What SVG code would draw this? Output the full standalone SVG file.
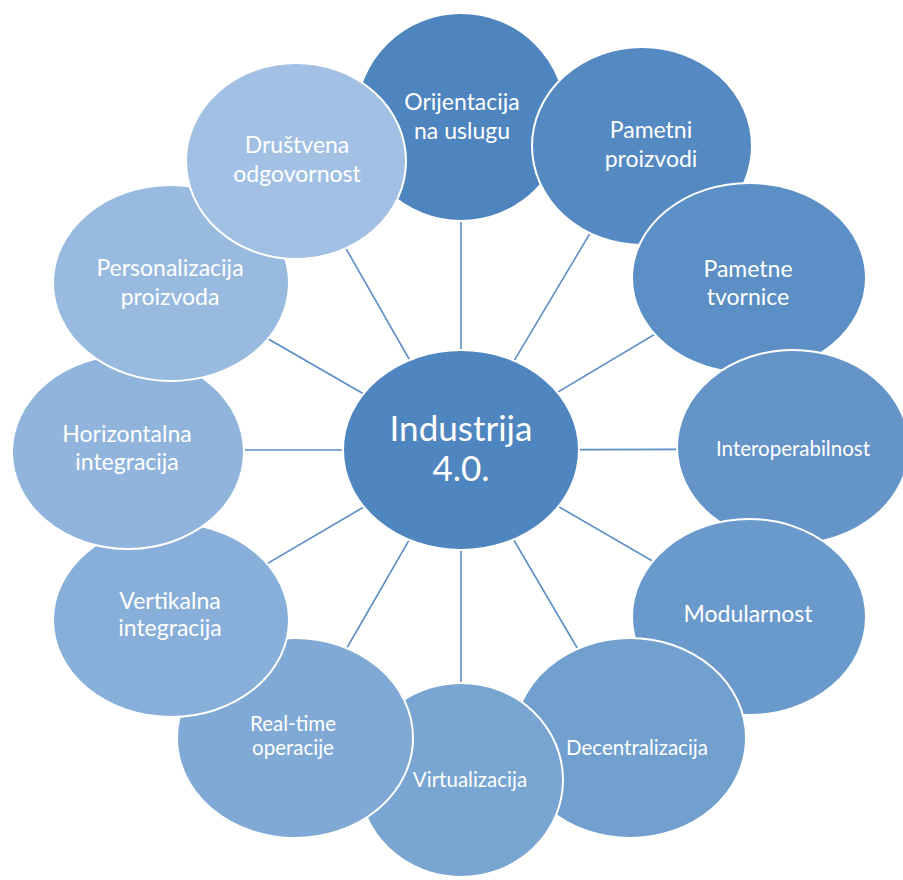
<svg xmlns="http://www.w3.org/2000/svg" width="903" height="880" viewBox="0 0 903 880">
<style>
.n{stroke:#ffffff;stroke-width:2}
.t{font-family:Lato,"Liberation Sans",sans-serif;fill:#ffffff;text-anchor:middle;font-size:23px}
.s{font-size:20.5px}
.c{stroke:#5b8dc8;stroke-width:1.6}
</style>
<rect width="903" height="880" fill="#ffffff"/>
<g id="connectors">
<line class="c" x1="461" y1="450" x2="461" y2="117"/>
<line class="c" x1="461" y1="450" x2="642" y2="146"/>
<line class="c" x1="461" y1="450" x2="749" y2="278"/>
<line class="c" x1="461" y1="450" x2="793" y2="449"/>
<line class="c" x1="461" y1="450" x2="749" y2="617"/>
<line class="c" x1="461" y1="450" x2="630" y2="738"/>
<line class="c" x1="461" y1="450" x2="461" y2="780"/>
<line class="c" x1="461" y1="450" x2="295" y2="738"/>
<line class="c" x1="461" y1="450" x2="171" y2="620"/>
<line class="c" x1="461" y1="450" x2="128" y2="450"/>
<line class="c" x1="461" y1="450" x2="171" y2="283"/>
<line class="c" x1="461" y1="450" x2="296" y2="161"/>
</g>
<g id="center">
<ellipse class="n" cx="461" cy="450" rx="118" ry="100" fill="#4f86c0"/>
<text class="t" x="461" y="441" style="font-size:35px">Industrija</text>
<text class="t" x="461" y="481" style="font-size:35px">4.0.</text>
</g>
<g id="n1">
<ellipse class="n" cx="461" cy="117" rx="105" ry="104" fill="#4f85bf"/>
<text class="t" x="462" y="110">Orijentacija</text>
<text class="t" x="462" y="139">na uslugu</text>
</g>
<g id="n2">
<ellipse class="n" cx="642" cy="146" rx="110" ry="99" fill="#5589c2"/>
<text class="t" x="651" y="138">Pametni</text>
<text class="t" x="651" y="167">proizvodi</text>
</g>
<g id="n3">
<ellipse class="n" cx="749" cy="278" rx="117" ry="95" fill="#5c8fc5"/>
<text class="t" x="748" y="277">Pametne</text>
<text class="t" x="748" y="305">tvornice</text>
</g>
<g id="n4">
<ellipse class="n" cx="793" cy="447" rx="116" ry="97" fill="#6494c8"/>
<text class="t s" x="793" y="456">Interoperabilnost</text>
</g>
<g id="n5">
<ellipse class="n" cx="749" cy="617" rx="117" ry="98" fill="#6a99cb"/>
<text class="t" x="748" y="622">Modularnost</text>
</g>
<g id="n6">
<ellipse class="n" cx="630" cy="738" rx="116" ry="100" fill="#71a0cf"/>
<text class="t s" x="637" y="755">Decentralizacija</text>
</g>
<g id="n7">
<ellipse class="n" cx="461" cy="780" rx="102" ry="97" fill="#78a5d2"/>
<text class="t s" x="470" y="787">Virtualizacija</text>
</g>
<g id="n8">
<ellipse class="n" cx="295" cy="738" rx="118" ry="100" fill="#80aad5"/>
<text class="t s" x="293" y="731">Real-time</text>
<text class="t s" x="293" y="755">operacije</text>
</g>
<g id="n9">
<ellipse class="n" cx="171" cy="620" rx="118" ry="97" fill="#88afd9"/>
<text class="t" x="170" y="609">Vertikalna</text>
<text class="t" x="170" y="636">integracija</text>
</g>
<g id="n10">
<ellipse class="n" cx="128" cy="452" rx="116" ry="97" fill="#90b4dc"/>
<text class="t" x="127" y="442">Horizontalna</text>
<text class="t" x="127" y="470">integracija</text>
</g>
<g id="n11">
<ellipse class="n" cx="171" cy="283" rx="118" ry="98" fill="#98badf"/>
<text class="t" x="170" y="276">Personalizacija</text>
<text class="t" x="170" y="305">proizvoda</text>
</g>
<g id="n12">
<ellipse class="n" cx="296" cy="161" rx="110" ry="98" fill="#a1c0e3"/>
<text class="t" x="297" y="153">Društvena</text>
<text class="t" x="297" y="182">odgovornost</text>
</g>
</svg>
